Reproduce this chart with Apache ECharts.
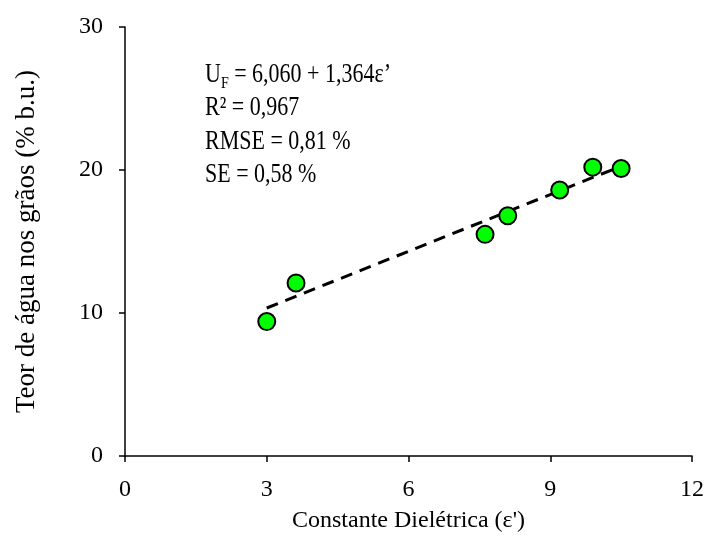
<!DOCTYPE html>
<html>
<head>
<meta charset="UTF-8">
<title>Teor de água x Constante Dielétrica</title>
<script src="https://cdn.jsdelivr.net/npm/echarts@6/dist/echarts.min.js"></script>
<style>
  html, body { margin: 0; padding: 0; background: #fff; }
  #chart { width: 711px; height: 541px; }
</style>
</head>
<body>
<div id="chart"></div>
<script type="text/javascript">
// measured points (constante dielétrica, teor de água %)
var epsX = [3.0, 3.62, 7.62, 8.1, 9.2, 9.9, 10.5];
var umidY = [9.4, 12.1, 15.5, 16.8, 18.6, 20.2, 20.1];
// fitted line end points
var fitX = [3.0, 10.45];
var fitY = [10.35, 20.2];
var xTicks = [0, 3, 6, 9, 12];
var yTicks = [0, 10, 20, 30];

var serif = 'Liberation Serif, Times New Roman, serif';
var chart = echarts.init(document.getElementById('chart'));

var pts = epsX.map(function (x, i) { return [x, umidY[i]]; });
var fit = fitX.map(function (x, i) { return [x, fitY[i]]; });

var axisCommon = {
  axisLine: { lineStyle: { color: '#000', width: 1.5 } },
  axisTick: { show: true, inside: false, length: 6, lineStyle: { color: '#000', width: 1.5 } },
  splitLine: { show: false },
  axisLabel: { color: '#000', fontFamily: serif, fontSize: 24 },
  nameTextStyle: { color: '#000', fontFamily: serif, fontSize: 24 }
};

var option = {
  animation: false,
  grid: { left: 125, right: 19, top: 27, bottom: 85 },
  xAxis: Object.assign({}, axisCommon, {
    type: 'value',
    min: xTicks[0], max: xTicks[xTicks.length - 1], interval: 3,
    name: "Constante Dielétrica (ε')",
    nameLocation: 'middle', nameGap: 53,
    axisLabel: Object.assign({}, axisCommon.axisLabel, { margin: 22 })
  }),
  yAxis: Object.assign({}, axisCommon, {
    type: 'value',
    min: yTicks[0], max: yTicks[yTicks.length - 1], interval: 10,
    name: 'Teor de água nos grãos (% b.u.)',
    nameLocation: 'middle', nameGap: 85,
    nameTextStyle: { color: '#000', fontFamily: serif, fontSize: 27 },
    axisLabel: Object.assign({}, axisCommon.axisLabel, { margin: 22 })
  }),
  graphic: [{
    type: 'text',
    left: 205, top: 62,
    scaleY: 1.2,
    style: {
      text: '{t|U}{sub|F}{t| = 6,060 + 1,364ε’}\n{t|R² = 0,967}\n{t|RMSE = 0,81 %}\n{t|SE = 0,58 %}',
      fill: '#000',
      font: '22px ' + serif,
      rich: {
        t: { fontFamily: serif, fontSize: 22, lineHeight: 27.8, fill: '#000' },
        sub: { fontFamily: serif, fontSize: 14, lineHeight: 27.8, fill: '#000', verticalAlign: 'bottom' }
      }
    }
  }],
  series: [{
    type: 'line',
    data: fit,
    symbol: 'none',
    lineStyle: { color: '#000', width: 3, type: [12, 8] },
    z: 2
  }, {
    type: 'scatter',
    data: pts,
    symbol: 'circle',
    symbolSize: 17,
    itemStyle: { color: '#00ff00', borderColor: '#000', borderWidth: 2, opacity: 1 },
    z: 3
  }]
};
chart.setOption(option);
</script>
</body>
</html>
